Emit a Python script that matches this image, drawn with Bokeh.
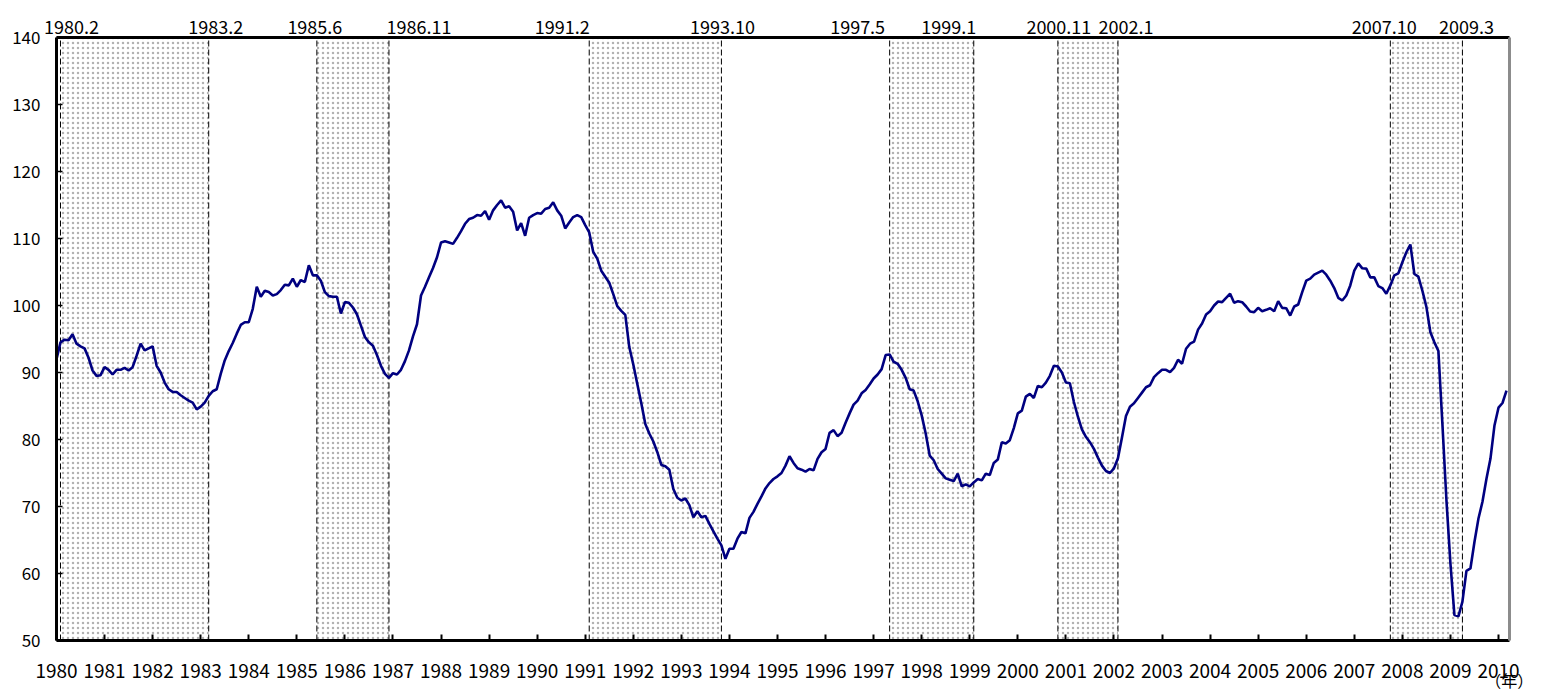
from bokeh.plotting import figure
from bokeh.models import Range1d, FixedTicker, LinearAxis, ColumnDataSource
from bokeh.embed import file_html
from bokeh.resources import INLINE

# ---------------- data (monthly index, Jan 1980 - Mar 2010) ----------------
v1980 = [92.0, 94.5, 94.9, 94.8, 95.7, 94.3, 93.9, 93.6, 92.2, 90.3, 89.5, 89.6]
v1981 = [90.8, 90.4, 89.7, 90.4, 90.4, 90.7, 90.3, 90.8, 92.5, 94.3, 93.3, 93.6]
v1982 = [93.9, 91.0, 90.0, 88.5, 87.5, 87.1, 87.1, 86.6, 86.2, 85.8, 85.5, 84.5]
v1983 = [84.9, 85.5, 86.5, 87.2, 87.5, 89.8, 91.8, 93.2, 94.4, 95.8, 97.1, 97.5]
v1984 = [97.5, 99.5, 102.8, 101.3, 102.2, 102.0, 101.5, 101.7, 102.3, 103.1, 103.0, 104.0]
v1985 = [102.8, 103.8, 103.5, 106.0, 104.5, 104.5, 103.7, 102.0, 101.4, 101.3, 101.3, 98.8]
v1986 = [100.5, 100.4, 99.7, 98.7, 97.0, 95.3, 94.5, 94.0, 92.6, 91.0, 89.8, 89.2]
v1987 = [89.9, 89.7, 90.4, 91.7, 93.3, 95.4, 97.2, 101.5, 102.8, 104.2, 105.6, 107.2]
v1988 = [109.4, 109.6, 109.4, 109.2, 110.1, 111.1, 112.2, 112.9, 113.1, 113.5, 113.4, 114.1]
v1989 = [112.8, 114.2, 115.0, 115.7, 114.6, 114.8, 114.0, 111.2, 112.3, 110.4, 113.1, 113.5]
v1990 = [113.8, 113.7, 114.4, 114.6, 115.4, 114.2, 113.4, 111.5, 112.4, 113.2, 113.5, 113.2]
v1991 = [112.0, 110.9, 108.0, 107.0, 105.2, 104.3, 103.4, 101.7, 99.9, 99.2, 98.6, 93.8]
v1992 = [91.2, 88.3, 85.4, 82.3, 80.9, 79.7, 78.1, 76.2, 76.0, 75.5, 72.6, 71.3]
v1993 = [70.9, 71.2, 70.2, 68.4, 69.3, 68.4, 68.6, 67.4, 66.3, 65.2, 64.2, 62.2]
v1994 = [63.7, 63.7, 65.2, 66.2, 66.0, 68.3, 69.2, 70.4, 71.5, 72.7, 73.5, 74.1]
v1995 = [74.5, 75.0, 76.1, 77.5, 76.5, 75.7, 75.5, 75.2, 75.6, 75.4, 77.1, 78.1]
v1996 = [78.6, 81.0, 81.4, 80.5, 81.0, 82.5, 83.9, 85.2, 85.8, 86.9, 87.4, 88.2]
v1997 = [89.1, 89.7, 90.5, 92.6, 92.7, 91.6, 91.3, 90.4, 89.2, 87.5, 87.3, 85.7]
v1998 = [83.6, 80.9, 77.6, 76.9, 75.6, 74.9, 74.2, 74.0, 73.8, 74.9, 73.0, 73.3]
v1999 = [73.0, 73.6, 74.1, 73.9, 74.9, 74.7, 76.5, 77.0, 79.6, 79.4, 79.9, 81.7]
v2000 = [83.9, 84.3, 86.4, 86.8, 86.2, 88.0, 87.8, 88.5, 89.5, 91.0, 90.9, 90.0]
v2001 = [88.5, 88.4, 85.6, 83.4, 81.5, 80.4, 79.6, 78.6, 77.3, 76.1, 75.3, 75.0]
v2002 = [75.7, 77.2, 80.3, 83.5, 84.9, 85.4, 86.2, 87.0, 87.8, 88.1, 89.3, 89.9]
v2003 = [90.4, 90.4, 90.05, 90.7, 91.9, 91.3, 93.55, 94.3, 94.6, 96.4, 97.3, 98.65]
v2004 = [99.15, 100.0, 100.6, 100.5, 101.15, 101.75, 100.4, 100.65, 100.5, 99.85, 99.1, 99.0]
v2005 = [99.65, 99.15, 99.35, 99.6, 99.15, 100.65, 99.65, 99.6, 98.5, 99.85, 100.15, 102.0]
v2006 = [103.7, 104.0, 104.6, 104.9, 105.2, 104.6, 103.7, 102.6, 101.15, 100.75, 101.5, 103.0]
v2007 = [105.2, 106.3, 105.55, 105.5, 104.2, 104.2, 102.9, 102.6, 101.75, 103.0, 104.5, 104.8]
v2008 = [106.45, 107.95, 109.1, 104.7, 104.3, 102.2, 99.8, 96.0, 94.5, 93.2, 82.3, 71.0]
v2009 = [61.5, 53.8, 53.6, 55.8, 60.4, 60.75, 64.7, 68.2, 70.7, 74.15, 77.15, 82.1]
v2010 = [84.75, 85.45, 87.3]

series = (v1980 + v1981 + v1982 + v1983 + v1984 + v1985 + v1986 + v1987 + v1988 + v1989
          + v1990 + v1991 + v1992 + v1993 + v1994 + v1995 + v1996 + v1997 + v1998 + v1999
          + v2000 + v2001 + v2002 + v2003 + v2004 + v2005 + v2006 + v2007 + v2008 + v2009 + v2010)
start_year = 1980
months_x = [start_year + i / 12 for i in range(len(series))]

# business-cycle peaks and troughs (year, month)
peaks = [(1980, 2), (1985, 6), (1991, 2), (1997, 5), (2000, 11), (2007, 10)]
troughs = [(1983, 2), (1986, 11), (1993, 10), (1999, 1), (2002, 1), (2009, 3)]

year_ticks = list(range(1980, 2011))
y_ticks = list(range(50, 141, 10))
unit_label = "（年）"

# ---------------- layout / style ----------------
FONT = "Noto Sans CJK JP"
Y0, Y1 = 50, 140
X0, X1 = 1980, 2010 + 2.75 / 12
FW, FH = 1453, 603
BL, BR, BT, BB = 56, 32, 37, 55
px_per_year = FW / (X1 - X0)

p = figure(frame_width=FW, frame_height=FH, output_backend="svg", toolbar_location=None,
           x_range=Range1d(X0, X1), y_range=Range1d(Y0, Y1),
           min_border_left=BL, min_border_right=BR, min_border_top=BT, min_border_bottom=BB)
p.outline_line_color = None
p.grid.visible = False
p.background_fill_color = "white"

# recession shading (start of peak month -> end of trough month)
rec_left = [y + (m - 1) / 12 for (y, m) in peaks]
rec_right = [y + m / 12 for (y, m) in troughs]
p.quad(left=rec_left, right=rec_right, bottom=Y0, top=Y1,
       fill_color="white", line_color=None,
       hatch_pattern="dot", hatch_color="#b2b2b2", hatch_scale=5, hatch_weight=1)

edges = rec_left + rec_right
p.segment(x0=edges, y0=[Y0] * len(edges), x1=edges, y1=[Y1] * len(edges),
          line_color="black", line_width=1, line_dash="6 3")

src = ColumnDataSource(dict(x=months_x, y=series))
p.line("x", "y", source=src, line_color="#000080", line_width=2.6)

# ---------------- axes ----------------
xa = p.xaxis[0]
xa.ticker = FixedTicker(ticks=year_ticks)
xa.axis_line_width = 3
xa.axis_line_color = "black"
xa.major_tick_in = 6
xa.major_tick_out = 0
xa.major_tick_line_width = 2
xa.minor_tick_line_color = None
xa.major_label_standoff = 23
xa.major_label_text_font = FONT
xa.major_label_text_font_size = "19px"
xa.major_label_text_color = "black"

ya = p.yaxis[0]
ya.ticker = FixedTicker(ticks=y_ticks)
ya.axis_line_width = 3
ya.axis_line_color = "black"
ya.major_tick_in = 6
ya.major_tick_out = 0
ya.major_tick_line_width = 1.5
ya.minor_tick_line_color = None
ya.major_label_standoff = 16
ya.major_label_text_font = FONT
ya.major_label_text_font_size = "17px"
ya.major_label_text_color = "black"

# top border carries the turning-point date labels
peak_dx = [11, -2, -27, -32, 1, -6]
trough_dx = [7, 30, 1, -25, 8, 4]
label_pos = []
label_txt = {}
for (y, m), xpos, dx in list(zip(peaks, rec_left, peak_dx)) + list(zip(troughs, rec_right, trough_dx)):
    t = round(xpos + dx / px_per_year, 4)
    label_pos.append(t)
    label_txt[t] = f"{y}.{m}"
top_axis = LinearAxis(ticker=FixedTicker(ticks=sorted(label_pos)), major_label_overrides=label_txt,
                      axis_line_width=3, axis_line_color="black",
                      major_tick_line_color=None, minor_tick_line_color=None,
                      major_label_standoff=-2, major_label_text_font=FONT,
                      major_label_text_font_size="18px", major_label_text_color="black")
p.add_layout(top_axis, "above")

right_axis = LinearAxis(ticker=FixedTicker(ticks=[]), axis_line_width=3, axis_line_color="#8c8c8c",
                        major_label_text_font_size="0px", major_tick_line_color=None,
                        minor_tick_line_color=None)
p.add_layout(right_axis, "right")

# unit label under the last year (tick kept just inside the x range)
unit_pos = round(2010 + 2.7 / 12, 4)
unit_axis = LinearAxis(ticker=FixedTicker(ticks=[unit_pos]), major_label_overrides={unit_pos: unit_label},
                       axis_line_color=None, major_tick_line_color=None, minor_tick_line_color=None,
                       major_label_standoff=-19, major_label_text_font=FONT,
                       major_label_text_font_size="16px", major_label_text_color="black")
p.add_layout(unit_axis, "below")

open("out.html", "w").write(file_html(p, INLINE))
